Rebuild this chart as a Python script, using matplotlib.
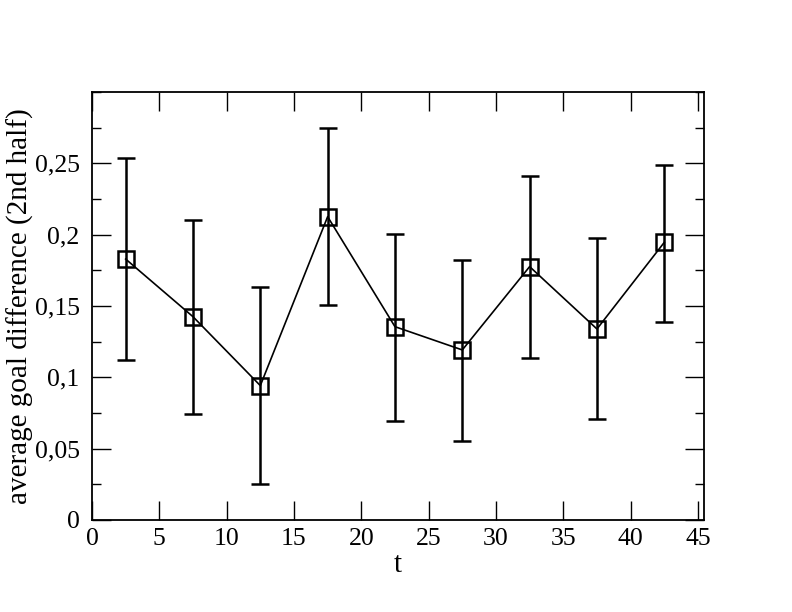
import numpy as np
import matplotlib.pyplot as plt
from matplotlib.ticker import FuncFormatter, MultipleLocator

# Datos
t = [2.5, 7.5, 12.5, 17.5, 22.5, 27.5, 32.5, 37.5, 42.5]
goal_diff = [0.1829, 0.1425, 0.0942, 0.2126, 0.1355, 0.1192, 0.1776, 0.1339, 0.1946]
err_top = [0.2540, 0.2103, 0.1636, 0.2745, 0.2005, 0.1824, 0.2414, 0.1977, 0.2488]
err_bottom = [0.1121, 0.0743, 0.0255, 0.1509, 0.0694, 0.0555, 0.1138, 0.0710, 0.1390]

x_ticks = [0, 5, 10, 15, 20, 25, 30, 35, 40, 45]
y_ticks = [0, 0.05, 0.1, 0.15, 0.2, 0.25]

plt.rcParams['font.family'] = ['Liberation Serif', 'DejaVu Serif']

fig = plt.figure(figsize=(7.92, 6.12), dpi=100)
ax = fig.add_axes([92/792, 92/612, 612/792, 428/612])

y = np.array(goal_diff)
yerr = [y - np.array(err_bottom), np.array(err_top) - y]

ax.errorbar(t, y, yerr=yerr, fmt='none', ecolor='black', elinewidth=1.8,
            capsize=6.5, capthick=1.8, zorder=2)
ax.plot(t, y, color='black', lw=1.2, marker='s', markersize=11,
        markerfacecolor='none', markeredgecolor='black', markeredgewidth=1.8, zorder=3)

ax.set_xlim(0, 45.45)
ax.set_ylim(0, 0.3)
ax.set_xticks(x_ticks)
ax.set_yticks(y_ticks)
ax.yaxis.set_minor_locator(MultipleLocator(0.025))

fmt = FuncFormatter(lambda v, pos: ('%g' % v).replace('.', ','))
ax.yaxis.set_major_formatter(fmt)

ax.tick_params(which='both', direction='in', top=True, right=True, width=1.0)
ax.tick_params(which='major', length=13.5, labelsize=18.5, pad=6)
ax.tick_params(axis='y', which='major', pad=9)
ax.tick_params(which='minor', length=6.5)
for s in ax.spines.values():
    s.set_linewidth(1.3)

ax.set_xlabel('t', fontsize=21, labelpad=1)
ax.set_ylabel('average goal difference (2nd half)', fontsize=21, labelpad=0)

fig.savefig('out.png', dpi=100)
